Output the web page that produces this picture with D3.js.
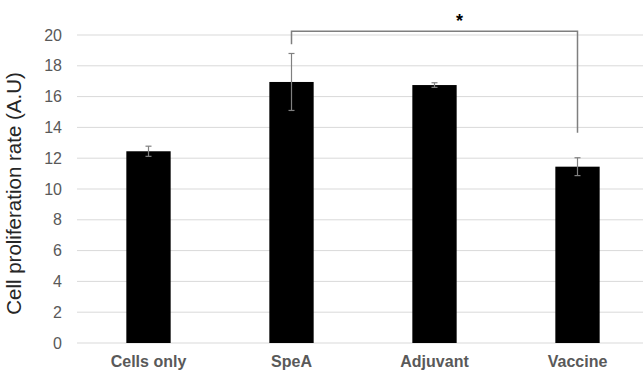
<!DOCTYPE html>
<html>
<head>
<meta charset="utf-8">
<script src="https://cdn.jsdelivr.net/npm/d3@7"></script>
<style>
  body { margin: 0; background: #fff; }
  svg { font-family: "Liberation Sans", Arial, sans-serif; }
</style>
</head>
<body>
<div id="chart"></div>
<script>
var categories   =   ['Cells only', 'SpeA', 'Adjuvant', 'Vaccine'];
var values       =   [12.45, 16.95, 16.75, 11.45];
var errors       =   [0.33, 1.85, 0.15, 0.58];
var y_ticks      =   [0, 2, 4, 6, 8, 10, 12, 14, 16, 18, 20];

// Tamanho
var chart_width  =   643;
var chart_height =   371;
var margin       =   { top: 35, right: -6, bottom: 28, left: 77 };

var svg = d3.select( '#chart' )
    .append( 'svg' )
    .attr( 'width', chart_width )
    .attr( 'height', chart_height );

// Escalas
var x_scale = d3.scaleBand()
    .domain( categories )
    .range( [margin.left, chart_width - margin.right] )
    .paddingInner( 0.69 )
    .paddingOuter( 0.345 );

var y_scale = d3.scaleLinear()
    .domain( [0, 20] )
    .range( [chart_height - margin.bottom, margin.top] );

// Linhas de grade
svg.selectAll( '.grid' )
    .data( y_ticks )
    .enter()
    .append( 'line' )
    .attr( 'x1', margin.left )
    .attr( 'x2', chart_width )
    .attr( 'y1', function( d ){ return y_scale(d); } )
    .attr( 'y2', function( d ){ return y_scale(d); } )
    .attr( 'stroke', '#d9d9d9' )
    .attr( 'stroke-width', 1 );

// Eixo y (apenas rotulos)
var y_axis = d3.axisLeft( y_scale )
    .tickValues( y_ticks )
    .tickSize( 0 )
    .tickPadding( 0 );

var gy = svg.append( 'g' )
    .attr( 'transform', 'translate(62,0)' )
    .call( y_axis );
gy.select( '.domain' ).remove();
gy.selectAll( 'text' )
    .attr( 'font-size', 16 )
    .attr( 'font-family', '"Liberation Sans", Arial, sans-serif' )
    .attr( 'fill', '#595959' );

// Eixo x (apenas rotulos)
var x_axis = d3.axisBottom( x_scale )
    .tickSize( 0 )
    .tickPadding( 0 );

var gx = svg.append( 'g' )
    .attr( 'transform', 'translate(0,' + (chart_height - margin.bottom + 13) + ')' )
    .call( x_axis );
gx.select( '.domain' ).remove();
gx.selectAll( 'text' )
    .attr( 'font-size', 16 )
    .attr( 'font-weight', 'bold' )
    .attr( 'font-family', '"Liberation Sans", Arial, sans-serif' )
    .attr( 'fill', '#595959' );

// Barras
svg.selectAll( '.bar' )
    .data( values )
    .enter()
    .append( 'rect' )
    .attr( 'x', function( d, i ){ return x_scale( categories[i] ); } )
    .attr( 'y', function( d ){ return y_scale(d); } )
    .attr( 'width', x_scale.bandwidth() )
    .attr( 'height', function( d ){ return y_scale(0) - y_scale(d); } )
    .attr( 'fill', '#000' );

// Barras de erro
var cx = function( i ){ return x_scale( categories[i] ) + x_scale.bandwidth() / 2; };
var err = svg.selectAll( '.err' )
    .data( values )
    .enter()
    .append( 'g' )
    .attr( 'stroke', '#808080' )
    .attr( 'stroke-width', 1.2 );
err.append( 'line' )
    .attr( 'x1', function( d, i ){ return cx(i); } )
    .attr( 'x2', function( d, i ){ return cx(i); } )
    .attr( 'y1', function( d, i ){ return y_scale( d + errors[i] ); } )
    .attr( 'y2', function( d, i ){ return y_scale( d - errors[i] ); } );
err.append( 'line' )
    .attr( 'x1', function( d, i ){ return cx(i) - 3; } )
    .attr( 'x2', function( d, i ){ return cx(i) + 3; } )
    .attr( 'y1', function( d, i ){ return y_scale( d + errors[i] ); } )
    .attr( 'y2', function( d, i ){ return y_scale( d + errors[i] ); } );
err.append( 'line' )
    .attr( 'x1', function( d, i ){ return cx(i) - 3; } )
    .attr( 'x2', function( d, i ){ return cx(i) + 3; } )
    .attr( 'y1', function( d, i ){ return y_scale( d - errors[i] ); } )
    .attr( 'y2', function( d, i ){ return y_scale( d - errors[i] ); } );

// Colchete de significancia
var bracket_y = 20.25;
svg.append( 'path' )
    .attr( 'd', 'M' + cx(1) + ',' + y_scale(19.4) +
                'V' + y_scale(bracket_y) +
                'H' + cx(3) +
                'V' + y_scale(13.65) )
    .attr( 'fill', 'none' )
    .attr( 'stroke', '#7f7f7f' )
    .attr( 'stroke-width', 1.5 );

svg.append( 'text' )
    .text( '*' )
    .attr( 'x', (cx(1) + cx(3)) / 2 + 25 )
    .attr( 'y', 27 )
    .attr( 'text-anchor', 'middle' )
    .attr( 'font-size', 18 )
    .attr( 'font-weight', 'bold' )
    .attr( 'fill', '#000' );

// Titulo do eixo y
svg.append( 'text' )
    .text( 'Cell proliferation rate (A.U)' )
    .attr( 'transform', 'translate(21,193.5) rotate(-90)' )
    .attr( 'text-anchor', 'middle' )
    .attr( 'font-size', 20.5 )
    .attr( 'fill', '#262626' );
</script>
</body>
</html>
